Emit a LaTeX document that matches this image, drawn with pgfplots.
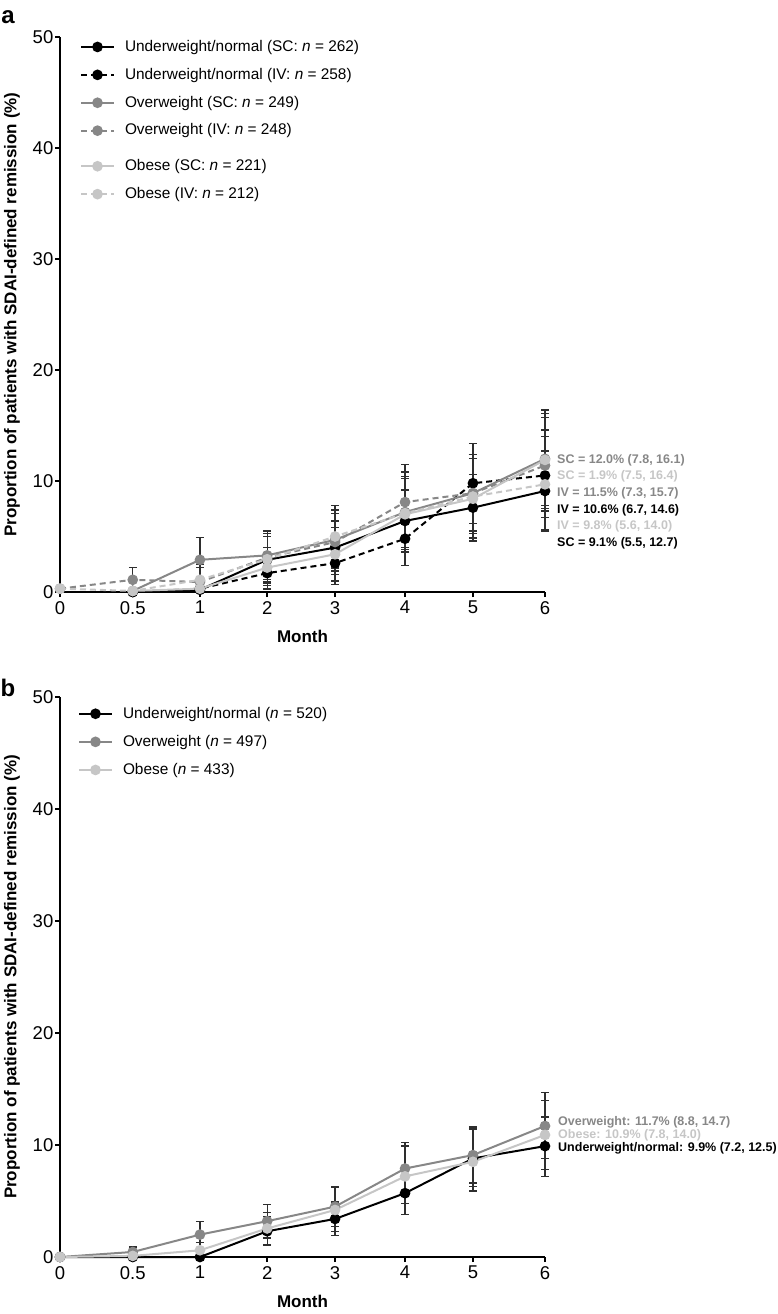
\documentclass[border=0pt]{standalone}
\usepackage{pgfplots}
\pgfplotsset{compat=1.18}
\usepackage{pgfplotstable}
\usepackage{fontspec}
\setmainfont{Liberation Sans}

\definecolor{cblack}{HTML}{000000}
\definecolor{cgrey}{HTML}{878787}
\definecolor{clight}{HTML}{C6C6C6}
\definecolor{cerr}{HTML}{2E2E2E}

% ---------- panel a ----------
\pgfplotstableread{
x y lo hi
1.05 0 0 0
2.02 0.2 0 0.6
2.99 2.9 0.8 5.0
3.97 4.0 1.6 6.4
4.98 6.4 3.6 9.2
5.96 7.6 4.6 10.6
7 9.1 5.5 12.7
}\aUWSC
\pgfplotstableread{
x y lo hi
1.05 0 0 0
2.02 0.3 0 0.9
2.99 1.7 0.2 3.2
3.97 2.6 0.7 4.6
4.98 4.8 2.4 7.3
5.96 9.8 6.2 13.4
7 10.5 6.7 14.6
}\aUWIV
\pgfplotstableread{
x y lo hi
1.05 0.1 0 0.3
2.02 2.9 0.9 4.9
2.99 3.3 1.1 5.5
3.97 4.7 2.1 7.4
4.98 7.2 4.0 10.4
5.96 8.9 5.3 12.4
7 12.0 7.8 16.1
}\aOWSC
\pgfplotstableread{
x y lo hi
0 0.3 0.3 0.3
1.05 1.1 0 2.2
2.02 0.9 0 2.2
2.99 3.1 0.9 5.3
3.97 4.5 1.9 7.1
4.98 8.1 4.8 11.5
5.96 8.9 5.5 12.4
7 11.4 7.3 15.7
}\aOWIV
\pgfplotstableread{
x y lo hi
1.05 0.1 0 0.3
2.02 0.3 0 0.9
2.99 2.2 0.3 4.0
3.97 3.4 1.0 5.8
4.98 7.0 3.8 10.2
5.96 8.4 4.8 12.0
7 11.9 7.5 16.4
}\aOBSC
\pgfplotstableread{
x y lo hi
0 0.3 0.3 0.3
1.05 0.1 0 0.3
2.02 1.1 0 2.5
2.99 2.95 0.6 5.3
3.97 5.0 2.2 7.8
4.98 7.1 3.6 10.8
5.96 8.6 4.9 12.4
7 9.7 5.6 14.0
}\aOBIV

% ---------- panel b ----------
\pgfplotstableread{
x y lo hi
0 0 0 0
1.05 0 0 0
2.02 0 0 0
2.99 2.3 1.0 3.6
3.97 3.4 1.9 4.9
4.98 5.7 3.8 7.7
5.96 8.8 6.3 11.4
7 9.9 7.2 12.5
}\bUW
\pgfplotstableread{
x y lo hi
0 0 0 0
1.05 0.45 0 0.9
2.02 2.0 0.8 3.2
2.99 3.2 1.7 4.7
3.97 4.5 2.7 6.3
4.98 7.9 5.5 10.2
5.96 9.1 6.6 11.6
7 11.7 8.8 14.7
}\bOW
\pgfplotstableread{
x y lo hi
0 0 0 0
1.05 0.1 0 0.3
2.02 0.6 0 1.3
2.99 2.55 1.1 4.0
3.97 4.2 2.3 6.2
4.98 7.2 4.8 9.9
5.96 8.5 5.9 11.5
7 10.9 7.8 14.0
}\bOB

\pgfplotsset{
  base/.style={
    scale only axis, width=485pt,
    axis lines=left, axis line style={-, line width=1.5pt},
    xmin=0, xmax=7, ymin=0, ymax=50,
    ytick={0,10,20,30,40,50},
    xtick={0,1.05,2.02,2.99,3.97,4.98,5.96,7},
    xticklabels={0,0.5,1,2,3,4,5,6},
    tick style={black, line width=1.5pt},
    major tick length=5pt, tick align=outside,
    clip=false,
    ticklabel style={font=\fontsize{18.5}{20}\selectfont},
    yticklabel style={inner sep=1.5pt},
    xticklabel style={inner sep=2pt, yshift=-2pt},
    /pgf/number format/assume math mode=true,
    xlabel={\bfseries Month},
    xlabel style={at={(axis description cs:0.5,0)}, anchor=center, yshift=-44pt, font=\fontsize{17}{20}\selectfont},
    ylabel={\bfseries Proportion of patients with SDAI-defined remission (\%)},
    ylabel style={at={(axis description cs:-0.099,0.5)}, anchor=center, font=\fontsize{17}{20}\selectfont},
    legend image code/.code={\draw[mark repeat=2,mark phase=2,##1] plot coordinates {(0pt,0pt) (16.5pt,0pt) (33pt,0pt)};},
    legend cell align=left,
    legend style={draw=none, fill=none, at={(axis description cs:0,1)}, anchor=north west,
      inner sep=0pt, outer sep=0pt, row sep=12.4pt, column sep=10pt,
      font=\fontsize{15.4}{18}\selectfont,
      nodes={inner sep=0pt, text height=12pt, text depth=3.5pt}},
  },
  ln/.style={line width=2pt, mark=*, mark size=4.3pt, mark options={solid}},
  eb/.style={/pgfplots/error bars/y dir=both, /pgfplots/error bars/y explicit,
    /pgfplots/error bars/error bar style={line width=1.3pt, cerr, solid},
    /pgfplots/error bars/error mark options={cerr, line width=1.3pt, mark size=4pt, rotate=90}},
  dsh/.style={dash pattern=on 6pt off 4pt},
  /pgfplots/table/tb/.style={x=x, y=y, y error plus expr=\thisrow{hi}-\thisrow{y}, y error minus expr=\thisrow{y}-\thisrow{lo}},
}

\begin{document}
\begin{tikzpicture}
\useasboundingbox (0pt,0pt) rectangle (777pt,-1314pt);

% ================= panel a =================
\begin{axis}[base, height=555pt, at={(60pt,-592pt)}, anchor=south west,
  legend style={xshift=20pt, yshift=-2.2pt}]
\addplot[ln, cblack, eb] table[tb] {\aUWSC};
\addlegendentry{Underweight/normal (SC: \textit{n} = 262)}
\addplot[ln, cblack, dsh, eb] table[tb] {\aUWIV};
\addlegendentry{Underweight/normal (IV: \textit{n} = 258)}
\addplot[ln, cgrey, eb] table[tb] {\aOWSC};
\addlegendentry{Overweight (SC: \textit{n} = 249)}
\addplot[ln, cgrey, dsh, eb] table[tb] {\aOWIV};
\addlegendentry{Overweight (IV: \textit{n} = 248)}
\addplot[forget plot, ln, clight, eb] table[tb] {\aOBSC};
\addplot[forget plot, ln, clight, dsh, eb] table[tb] {\aOBIV};
\end{axis}
\begin{axis}[base, height=555pt, at={(60pt,-592pt)}, anchor=south west, hide axis,
  xlabel={}, ylabel={},
  legend style={xshift=20pt, yshift=-121.5pt}]
\addlegendimage{ln, clight}
\addlegendentry{Obese (SC: \textit{n} = 221)}
\addlegendimage{ln, clight, dsh}
\addlegendentry{Obese (IV: \textit{n} = 212)}
\end{axis}

\node[anchor=center, font=\bfseries\fontsize{24}{26}\selectfont] at (8pt,-17pt) {a};

\begin{scope}[every node/.style={anchor=west, inner sep=0pt, font=\bfseries\fontsize{12.5}{14}\selectfont}]
\node[text=cgrey]  at (557pt,-460pt) {SC = 12.0\% (7.8, 16.1)};
\node[text=clight] at (557pt,-476.5pt) {SC = 1.9\% (7.5, 16.4)};
\node[text=cgrey]  at (557pt,-493pt) {IV = 11.5\% (7.3, 15.7)};
\node[text=cblack] at (557pt,-510pt) {IV = 10.6\% (6.7, 14.6)};
\node[text=clight] at (557pt,-526.5pt) {IV = 9.8\% (5.6, 14.0)};
\node[text=cblack] at (557pt,-543pt) {SC = 9.1\% (5.5, 12.7)};
\end{scope}

% ================= panel b =================
\begin{axis}[base, height=560pt, at={(60pt,-1257pt)}, anchor=south west,
  legend style={xshift=18pt, yshift=-9pt, row sep=12.6pt}]
\addplot[ln, cblack, eb] table[tb] {\bUW};
\addlegendentry{Underweight/normal (\textit{n} = 520)}
\addplot[ln, cgrey, eb] table[tb] {\bOW};
\addlegendentry{Overweight (\textit{n} = 497)}
\addplot[ln, clight, eb] table[tb] {\bOB};
\addlegendentry{Obese (\textit{n} = 433)}
\end{axis}

\node[anchor=center, font=\bfseries\fontsize{24}{26}\selectfont] at (8pt,-688pt) {b};

\begin{scope}[every node/.style={anchor=west, inner sep=0pt, font=\bfseries\fontsize{12.5}{14}\selectfont}]
\node[text=cgrey]  at (558pt,-1122pt) {Overweight: 11.7\% (8.8, 14.7)};
\node[text=clight] at (558pt,-1135pt) {Obese: 10.9\% (7.8, 14.0)};
\node[text=cblack] at (558pt,-1148pt) {Underweight/normal: 9.9\% (7.2, 12.5)};
\end{scope}
\end{tikzpicture}
\end{document}
